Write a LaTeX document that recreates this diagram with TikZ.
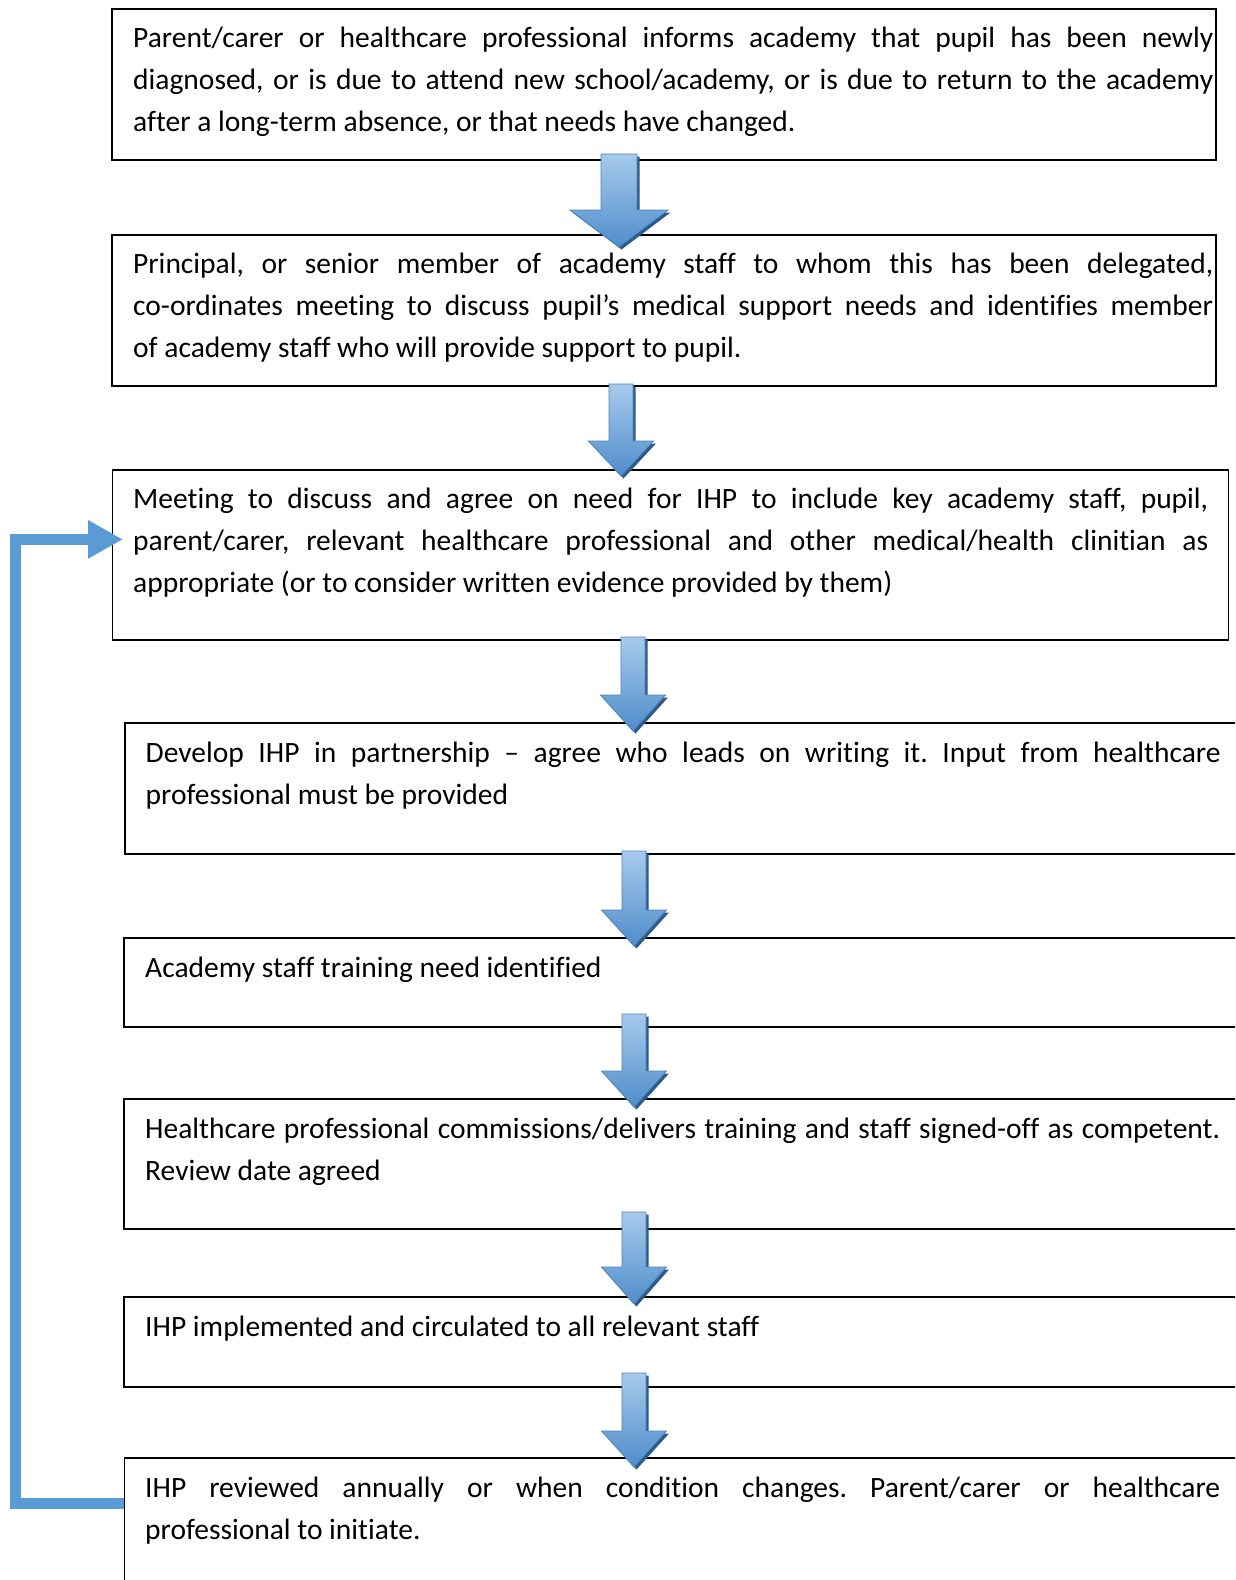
\documentclass[tikz,border=0pt]{standalone}
\usepackage{fontspec}
\setmainfont{Carlito}[Ligatures=CommonOff]
\usetikzlibrary{arrows.meta}
\definecolor{fbblue}{HTML}{5B9BD5}
\definecolor{arrlight}{HTML}{A8CAEC}
\definecolor{arrdark}{HTML}{4F8DCB}
\definecolor{arrshadow}{HTML}{2C5B8A}
\definecolor{arredge}{HTML}{4A84C0}
\hbadness=10000
\frenchspacing
% #1 cx, #2 top, #3 tip, #4 shaft half width, #5 head half width, #6 head length
\newcommand\blockarrow[6]{%
  \fill[arrshadow, shift={(2.5,2.5)}]
    ({#1-#4},#2) -- ({#1+#4},#2) -- ({#1+#4},{#3-#6}) -- ({#1+#5},{#3-#6})
    -- (#1,#3) -- ({#1-#5},{#3-#6}) -- ({#1-#4},{#3-#6}) -- cycle;
  \shade[top color=arrlight, bottom color=arrdark, draw=arredge, line width=0.8pt, line join=miter]
    ({#1-#4},#2) -- ({#1+#4},#2) -- ({#1+#4},{#3-#6}) -- ({#1+#5},{#3-#6})
    -- (#1,#3) -- ({#1-#5},{#3-#6}) -- ({#1-#4},{#3-#6}) -- cycle;
}
\begin{document}
\begin{tikzpicture}[x=1pt, y=-1pt,
  box/.style={draw=black, line width=1.8pt, rectangle, inner sep=0pt, anchor=north west, minimum width=#1},
  box/.default=1200pt,
  txt/.style={inner sep=0pt, anchor=north west, text width=#1, align=justify,
    font=\fontsize{29.5}{41.7}\selectfont\frenchspacing},
  txt/.default=1075pt,
  fb/.style={draw=fbblue, line width=11pt, line join=miter, -{Triangle[width=36pt,length=35pt]}}]
\useasboundingbox (0,0) rectangle (1235,1580);
\clip (0,0) rectangle (1235,1580);
\fill[white] (0,0) rectangle (1235,1580);

% boxes
\node[box=1104pt, minimum height=151pt] (b1) at (111,8) {};
\node[box=1104pt, minimum height=151pt] (b2) at (111,234) {};
\node[box=1116pt, minimum height=170pt] (b3) at (111.5,469) {};
\node[box, minimum height=131pt] (b4) at (124,722) {};
\node[box, minimum height=89pt] (b5) at (123,937) {};
\node[box, minimum height=130pt] (b6) at (123,1098) {};
\node[box, minimum height=90pt] (b7) at (123,1296) {};
\node[box, minimum height=200pt] (b8) at (123.5,1457) {};

% texts
\node[txt=1080pt] (t1) at ([xshift=22pt,yshift=-10.5pt]b1.north west) {\strut Parent/carer or healthcare professional informs academy that pupil has been newly\linebreak diagnosed, or is due to attend new school/academy, or is due to return to the academy\linebreak after a long-term absence, or that needs have changed.};
\node[txt=1080pt] (t2) at ([xshift=22pt,yshift=-10.5pt]b2.north west) {\strut Principal, or senior member of academy staff to whom this has been delegated,\linebreak co-ordinates meeting to discuss pupil’s medical support needs and identifies member\linebreak of academy staff who will provide support to pupil.};
\node[txt] (t3) at ([xshift=21.5pt,yshift=-10.5pt]b3.north west) {\strut Meeting to discuss and agree on need for IHP to include key academy staff, pupil,\linebreak parent/carer, relevant healthcare professional and other medical/health clinitian as\linebreak appropriate (or to consider written evidence provided by them)};
\node[txt] (t4) at ([xshift=21.5pt,yshift=-11pt]b4.north west) {\strut Develop IHP in partnership – agree who leads on writing it. Input from healthcare\linebreak professional must be provided};
\node[txt] (t5) at ([xshift=22pt,yshift=-11pt]b5.north west) {\strut Academy staff training need identified};
\node[txt] (t6) at ([xshift=22pt,yshift=-11pt]b6.north west) {\strut Healthcare professional commissions/delivers training and staff signed-off as competent.\linebreak Review date agreed};
\node[txt] (t7) at ([xshift=22pt,yshift=-11pt]b7.north west) {\strut IHP implemented and circulated to all relevant staff};
\node[txt] (t8) at ([xshift=21.5pt,yshift=-11pt]b8.north west) {\strut IHP reviewed annually or when condition changes. Parent/carer or healthcare\linebreak professional to initiate.};

% block arrows
\blockarrow{619}{154}{247}{18}{49}{37}
\blockarrow{621}{384}{476}{12}{32.5}{35}
\blockarrow{633}{637}{731}{12}{32.5}{36}
\blockarrow{634}{851}{946}{12}{32.5}{36}
\blockarrow{634}{1014}{1107}{12}{32.5}{36}
\blockarrow{634}{1212}{1304}{12}{32.5}{37}
\blockarrow{634}{1373}{1467}{12}{32.5}{36}

% feedback connector
\draw[fb] ([yshift=-46.5pt]b8.north west) -- ++(-108,0) |- ([xshift=11.5pt,yshift=15.5pt]b3.west);
\end{tikzpicture}
\end{document}
